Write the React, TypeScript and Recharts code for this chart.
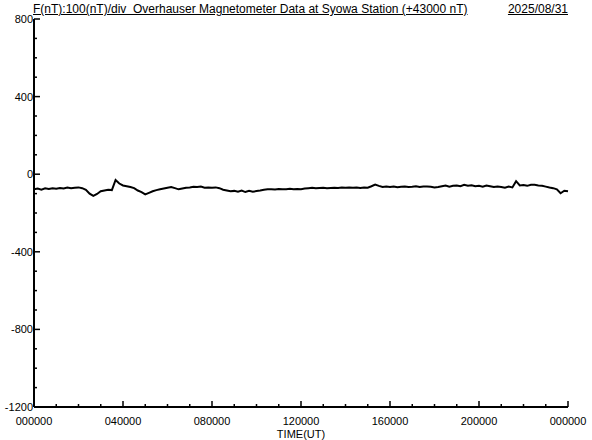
import React from "react";
import { LineChart, Line, XAxis, YAxis } from "recharts";

// Time in hours (10-minute steps), F deviation in nT (offset +43000 nT)
const hourStep = 1 / 6;
const fValues: number[] = [
  // 00h
  -78, -74, -80, -73, -76, -72,
  // 01h
  -75, -71, -74, -69, -72, -70,
  // 02h
  -68, -72, -80, -100, -112, -102,
  // 03h
  -88, -84, -80, -82, -30, -48,
  // 04h
  -58, -62, -66, -72, -84, -92,
  // 05h
  -104, -96, -88, -82, -78, -74,
  // 06h
  -70, -66, -72, -78, -74, -70,
  // 07h
  -68, -65, -66, -64, -70, -68,
  // 08h
  -70, -68, -72, -80, -84, -88,
  // 09h
  -86, -90, -84, -92, -86, -90,
  // 10h
  -87, -84, -80, -78, -77, -79,
  // 11h
  -76, -78, -77, -75, -78, -76,
  // 12h
  -77, -74, -72, -70, -73, -71,
  // 13h
  -70, -72, -71, -70, -71, -69,
  // 14h
  -70, -68, -70, -69, -71, -68,
  // 15h
  -70, -62, -53, -60, -66, -64,
  // 16h
  -66, -63, -67, -65, -64, -66,
  // 17h
  -65, -62, -66, -64, -63, -65,
  // 18h
  -68, -66, -62, -58, -64, -60,
  // 19h
  -58, -62, -55, -60, -57, -62,
  // 20h
  -60, -64, -58, -62, -66, -63,
  // 21h
  -66, -70, -64, -68, -36, -58,
  // 22h
  -56, -60, -54, -55, -58, -60,
  // 23h
  -64, -69, -72, -78, -98, -85,
  // 24h
  -88,
];

const xTicks: number[] = [0, 1, 2, 3, 4, 5, 6, 7, 8, 9, 10, 11, 12, 13, 14, 15, 16, 17, 18, 19, 20, 21, 22, 23, 24];
const xLabelHours: number[] = [0, 4, 8, 12, 16, 20, 24];
const xLabelTexts: string[] = ["000000", "040000", "080000", "120000", "160000", "200000", "000000"];
const yTicks: number[] = [-1200, -1100, -1000, -900, -800, -700, -600, -500, -400, -300, -200, -100, 0, 100, 200, 300, 400, 500, 600, 700, 800];
const yLabelValues: number[] = [-1200, -800, -400, 0, 400, 800];

const titleText = "F(nT):100(nT)/div  Overhauser Magnetometer Data at Syowa Station (+43000 nT)";
const dateText = "2025/08/31";
const xAxisTitle = "TIME(UT)";

const data = fValues.map((v, i) => ({ t: i * hourStep, f: v }));

const FONT = "'Liberation Sans', Arial, sans-serif";
const FS = 11;
const TITLE_FS = 12;

const BottomTick = (props: any) => {
  const { x, y, payload } = props;
  const v = payload.value as number;
  const idx = xLabelHours.indexOf(v);
  const major = idx >= 0;
  return (
    <g>
      <line x1={x} x2={x} y1={y} y2={y - (major ? 6 : 3)} stroke="#000" strokeWidth={1.5} />
      {major && (
        <text x={x} y={y + 14} textAnchor="middle" dominantBaseline="central" fontSize={FS} fontFamily={FONT} fill="#000">
          {xLabelTexts[idx]}
        </text>
      )}
    </g>
  );
};

const TopTick = (props: any) => {
  const { x, y, payload } = props;
  const major = xLabelHours.indexOf(payload.value) >= 0;
  return <line x1={x} x2={x} y1={y} y2={y + (major ? 6 : 3)} stroke="#000" strokeWidth={1.5} />;
};

const LeftTick = (props: any) => {
  const { x, y, payload } = props;
  const v = payload.value as number;
  const major = yLabelValues.indexOf(v) >= 0;
  return (
    <g>
      <line x1={x} x2={x + (major ? 6 : 3)} y1={y} y2={y} stroke="#000" strokeWidth={1.5} />
      {major && (
        <text x={x - 1} y={y} textAnchor="end" dominantBaseline="central" fontSize={FS} fontFamily={FONT} fill="#000">
          {String(v)}
        </text>
      )}
    </g>
  );
};

const RightTick = (props: any) => {
  const { x, y, payload } = props;
  const major = yLabelValues.indexOf(payload.value) >= 0;
  return <line x1={x} x2={x - (major ? 6 : 3)} y1={y} y2={y} stroke="#000" strokeWidth={1.5} />;
};

export default function App() {
  return (
    <div style={{ position: "absolute", left: 0, top: 0, width: 592, height: 440, background: "#fff" }}>
      <LineChart width={592} height={440} data={data} margin={{ top: 19, right: 24, bottom: 0, left: 0 }}>
        <XAxis
          xAxisId="b"
          dataKey="t"
          type="number"
          domain={[0, 24]}
          ticks={xTicks}
          interval={0}
          height={33}
          tickSize={0}
          tickMargin={0}
          tickLine={false}
          tick={<BottomTick />}
          axisLine={{ stroke: "#000", strokeWidth: 2 }}
          label={{ value: xAxisTitle, position: "insideBottom", offset: 2, fontSize: FS, fontFamily: FONT, fill: "#000" }}
        />
        <XAxis
          xAxisId="t"
          orientation="top"
          dataKey="t"
          type="number"
          domain={[0, 24]}
          ticks={xTicks}
          interval={0}
          height={0}
          tickSize={0}
          tickMargin={0}
          tickLine={false}
          tick={<TopTick />}
          axisLine={{ stroke: "#000", strokeWidth: 2 }}
        />
        <YAxis
          yAxisId="l"
          type="number"
          domain={[-1200, 800]}
          ticks={yTicks}
          interval={0}
          width={34}
          tickSize={0}
          tickMargin={0}
          tickLine={false}
          tick={<LeftTick />}
          axisLine={{ stroke: "#000", strokeWidth: 2 }}
        />
        <YAxis
          yAxisId="r"
          orientation="right"
          type="number"
          domain={[-1200, 800]}
          ticks={yTicks}
          interval={0}
          width={0}
          tickSize={0}
          tickMargin={0}
          tickLine={false}
          tick={<RightTick />}
          axisLine={{ stroke: "#000", strokeWidth: 2 }}
        />
        <Line
          xAxisId="b"
          yAxisId="l"
          dataKey="f"
          type="linear"
          stroke="#000"
          strokeWidth={2}
          dot={false}
          isAnimationActive={false}
        />
      </LineChart>
      <div
        style={{
          position: "absolute",
          left: 33,
          top: 3,
          fontFamily: FONT,
          fontSize: TITLE_FS,
          lineHeight: "13px",
          whiteSpace: "pre",
          color: "#000",
          textDecoration: "underline",
        }}
      >
        {titleText}
      </div>
      <div
        style={{
          position: "absolute",
          right: 24,
          top: 3,
          fontFamily: FONT,
          fontSize: TITLE_FS,
          lineHeight: "13px",
          whiteSpace: "pre",
          color: "#000",
          textDecoration: "underline",
        }}
      >
        {dateText}
      </div>
    </div>
  );
}
